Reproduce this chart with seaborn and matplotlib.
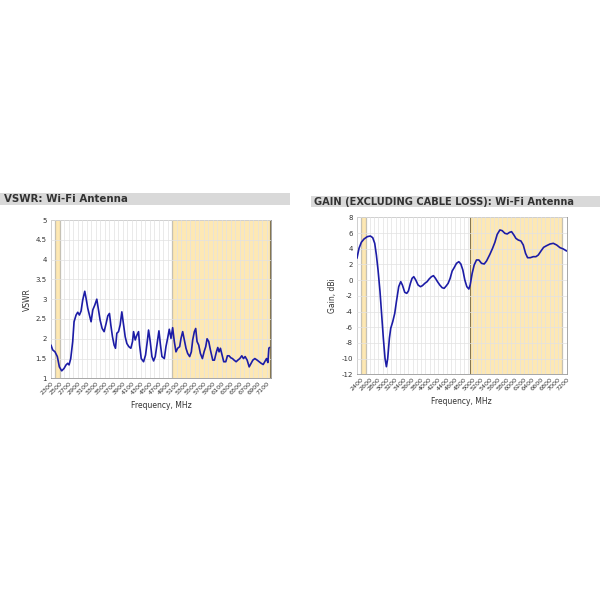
import numpy as np
import pandas as pd
import matplotlib
matplotlib.use("Agg")
import matplotlib.pyplot as plt
from matplotlib.patches import Rectangle
from matplotlib.ticker import MultipleLocator, FuncFormatter
import seaborn as sns

# ---------------- data ----------------
vswr_freq = [2300, 2337, 2389, 2441, 2486, 2538, 2590, 2635, 2672, 2702, 2739, 2783, 2813, 2858,
             2895, 2932, 2969, 3006, 3051, 3081, 3118, 3155, 3192, 3230, 3274, 3319, 3356, 3393,
             3438, 3482, 3527, 3564, 3601, 3631, 3668, 3705, 3735, 3765, 3802, 3839, 3876, 3914,
             3951, 3988, 4033, 4077, 4114, 4137, 4174, 4211, 4248, 4271, 4308, 4360, 4404, 4442,
             4471, 4508, 4546, 4583, 4620, 4657, 4702, 4732, 4769, 4821, 4858, 4895, 4932, 4970,
             5007, 5044, 5081, 5118, 5163, 5193, 5230, 5267, 5304, 5341, 5386, 5423, 5453, 5490,
             5520, 5550, 5587, 5624, 5669, 5706, 5743, 5773, 5810, 5847, 5899, 5936, 5981, 6011,
             6040, 6070, 6107, 6144, 6189, 6226, 6263, 6301, 6338, 6375, 6420, 6457, 6501, 6546,
             6583, 6620, 6665, 6710, 6754, 6791, 6836, 6888, 6933, 6977, 7022, 7066, 7096, 7126,
             7148, 7163]
vswr_vals = [1.84, 1.72, 1.67, 1.55, 1.29, 1.19, 1.25, 1.34, 1.38, 1.34, 1.50, 1.93, 2.43, 2.60,
             2.67, 2.60, 2.70, 2.98, 3.20, 3.02, 2.77, 2.60, 2.43, 2.73, 2.85, 3.00, 2.73, 2.47,
             2.26, 2.18, 2.39, 2.58, 2.64, 2.35, 2.05, 1.84, 1.76, 2.14, 2.18, 2.35, 2.68, 2.35,
             2.05, 1.88, 1.80, 1.76, 1.93, 2.18, 1.97, 2.09, 2.18, 1.84, 1.50, 1.42, 1.59, 1.93,
             2.22, 1.93, 1.55, 1.44, 1.55, 1.84, 2.20, 1.88, 1.55, 1.50, 1.80, 2.01, 2.24, 2.01,
             2.28, 1.93, 1.67, 1.76, 1.80, 2.01, 2.18, 1.97, 1.76, 1.63, 1.55, 1.67, 1.97, 2.18,
             2.26, 1.93, 1.84, 1.63, 1.50, 1.67, 1.80, 2.00, 1.93, 1.72, 1.46, 1.46, 1.67, 1.78,
             1.67, 1.76, 1.59, 1.42, 1.42, 1.57, 1.57, 1.52, 1.50, 1.46, 1.42, 1.46, 1.50, 1.57,
             1.50, 1.55, 1.46, 1.29, 1.38, 1.46, 1.50, 1.46, 1.42, 1.38, 1.35, 1.44, 1.50, 1.40,
             1.76, 1.78]

gain_freq = [2300, 2347, 2401, 2464, 2542, 2612, 2667, 2714, 2753, 2792, 2838, 2877, 2916, 2955,
             2987, 3018, 3057, 3088, 3135, 3182, 3221, 3275, 3322, 3361, 3416, 3463, 3502, 3548,
             3587, 3627, 3673, 3728, 3783, 3829, 3884, 3939, 3985, 4040, 4087, 4134, 4181, 4235,
             4290, 4337, 4383, 4430, 4477, 4524, 4571, 4625, 4680, 4727, 4774, 4820, 4867, 4914,
             4945, 4992, 5039, 5093, 5148, 5210, 5273, 5328, 5406, 5468, 5523, 5577, 5640, 5694,
             5757, 5811, 5866, 5913, 5967, 6014, 6069, 6131, 6186, 6240, 6287, 6350, 6420, 6482,
             6537, 6600, 6662, 6732, 6810, 6888, 6966, 7044, 7122, 7200]
gain_vals = [2.8, 4.05, 4.82, 5.24, 5.54, 5.62, 5.41, 4.69, 3.2, 1.29, -1.47, -4.44, -7.41, -9.96,
             -11.02, -9.96, -7.41, -6.14, -5.29, -4.23, -2.74, -0.83, -0.19, -0.62, -1.55, -1.68,
             -1.38, -0.41, 0.23, 0.44, 0.02, -0.62, -0.83, -0.7, -0.41, -0.19, 0.14, 0.44, 0.57,
             0.23, -0.19, -0.62, -0.96, -1.04, -0.75, -0.41, 0.23, 1.16, 1.59, 2.14, 2.35, 2.06,
             1.29, 0.02, -0.83, -1.13, -0.62, 0.87, 1.93, 2.57, 2.57, 2.14, 2.06, 2.44, 3.29, 4.05,
             4.82, 5.83, 6.39, 6.3, 5.96, 5.88, 6.09, 6.17, 5.75, 5.32, 5.11, 4.99, 4.48, 3.41,
             2.86, 2.86, 2.99, 2.99, 3.2, 3.71, 4.18, 4.39, 4.6, 4.69, 4.48, 4.14, 3.97, 3.71]

vswr_bands = [(2400, 2500), (4990, 7165)]
gain_bands = [(2400, 2500), (4950, 7100)]
vswr_ticks = list(range(2300, 7101, 200))
gain_ticks = list(range(2400, 7201, 200))
vswr_title = "VSWR: Wi-Fi Antenna"
gain_title = "GAIN (EXCLUDING CABLE LOSS): Wi-Fi Antenna"

# ---------------- style ----------------
sns.set_style("whitegrid")
plt.rcParams['font.family'] = ['DejaVu Sans']

LINE = "#1c1ca6"
BAND = "#fde8b4"
EDGE = "#857650"
GRID = "#e2e2e2"

fig = plt.figure(figsize=(6, 6), dpi=100)
fig.patch.set_facecolor("white")

# title bars
fig.add_artist(Rectangle((0.0, 1 - 205 / 600), 290 / 600, 12 / 600, transform=fig.transFigure,
                         facecolor="#d9d9d9", edgecolor="none"))
fig.add_artist(Rectangle((311 / 600, 1 - 207 / 600), 289 / 600, 11 / 600, transform=fig.transFigure,
                         facecolor="#d9d9d9", edgecolor="none"))
fig.text(4 / 600, 1 - 199.5 / 600, vswr_title, fontsize=7.4, fontweight="bold", color="#333333",
         va="center", ha="left")
fig.text(314 / 600, 1 - 202 / 600, gain_title, fontsize=7.1, fontweight="bold", color="#333333",
         va="center", ha="left")


def style_axes(ax, xticks, xlim, ylim, ystep, ylabel, bands):
    ax.set_xlim(*xlim)
    ax.set_ylim(*ylim)
    ax.set_xticks(xticks)
    ax.set_xticklabels([str(t) for t in xticks], rotation=45, ha="right", rotation_mode="anchor",
                       fontsize=4.6, color="#333333")
    ax.xaxis.set_minor_locator(MultipleLocator(100))
    ax.yaxis.set_major_locator(MultipleLocator(ystep))
    ax.yaxis.set_major_formatter(FuncFormatter(lambda v, p: f"{v:g}"))
    ax.tick_params(axis="y", labelsize=5, colors="#333333", length=0, pad=3)
    ax.tick_params(axis="x", which="both", length=2, width=0.4, color="#888888", pad=1.5, direction="in")
    ax.grid(True, which="major", color=GRID, lw=0.5)
    ax.grid(True, which="minor", axis="x", color=GRID, lw=0.5)
    for s in ax.spines.values():
        s.set_color("#999999")
        s.set_linewidth(0.6)
    ax.set_ylabel(ylabel, fontsize=5.5, color="#333333", labelpad=3)
    ax.set_xlabel("Frequency, MHz", fontsize=5.5, color="#333333", labelpad=4)
    ax.set_facecolor("white")
    for (a, b) in bands:
        ax.axvspan(a, b, color=BAND, zorder=0.5, lw=0)
        ax.axvline(a, color=EDGE, lw=0.8, zorder=0.6)
        ax.axvline(b, color=EDGE, lw=0.8, zorder=0.6)
    ax.set_axisbelow(False)


# VSWR
ax1 = fig.add_axes([0.085, 0.3694, 0.367, 0.2639])
df1 = pd.DataFrame({"Frequency": vswr_freq, "VSWR": vswr_vals})
sns.lineplot(data=df1, x="Frequency", y="VSWR", ax=ax1, color=LINE, lw=1.2, zorder=3)
style_axes(ax1, vswr_ticks, (2300, 7200), (1, 5), 0.5, "VSWR", vswr_bands)

# Gain
ax2 = fig.add_axes([0.595, 0.376, 0.3494, 0.2618])
df2 = pd.DataFrame({"Frequency": gain_freq, "Gain": gain_vals})
sns.lineplot(data=df2, x="Frequency", y="Gain", ax=ax2, color=LINE, lw=1.2, zorder=3)
style_axes(ax2, gain_ticks, (2300, 7200), (-12, 8), 2, "Gain, dBi", gain_bands)

for ax in (ax1, ax2):
    for l in ax.get_xgridlines() + ax.get_ygridlines():
        l.set_zorder(1)
    ax.set_ylim(*ax.get_ylim())

fig.savefig("out.png", dpi=100, facecolor="white")
